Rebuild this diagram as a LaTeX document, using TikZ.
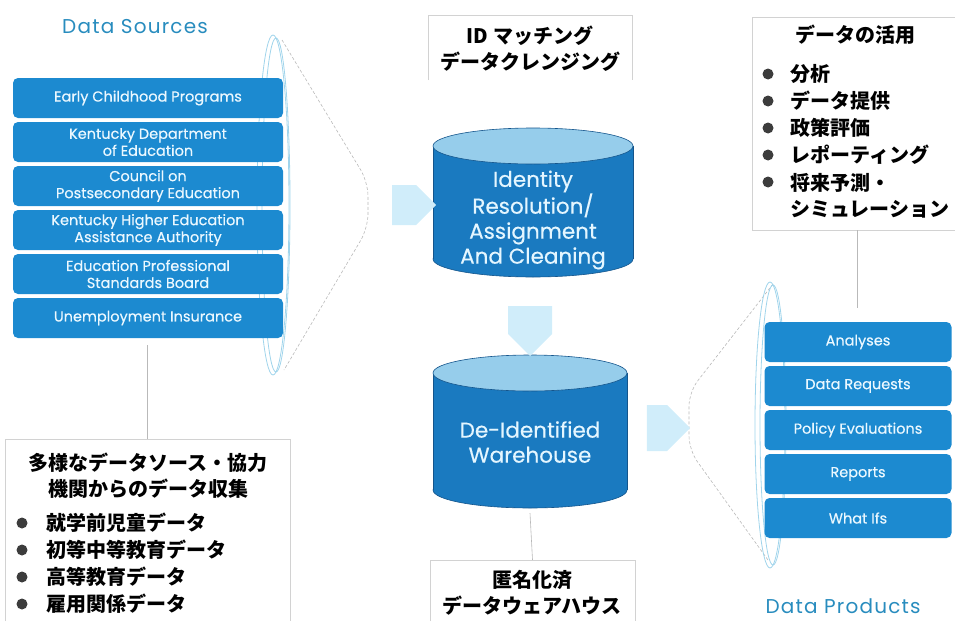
\documentclass[tikz,border=0pt]{standalone}
\usepackage{fontspec}
\setmainfont{Poppins}
\newfontfamily\boxfont{Poppins}[FakeBold=0.4]
\newfontfamily\titlefont{Poppins}[LetterSpace=6]
\newfontfamily\jp{Noto Sans CJK JP}
\usetikzlibrary{shapes.arrows}
\definecolor{boxblue}{RGB}{28,138,208}
\definecolor{titleblue}{RGB}{40,140,190}
\definecolor{cylbody}{RGB}{26,122,192}
\definecolor{cyledge}{RGB}{20,85,140}
\definecolor{cyltop}{RGB}{150,205,235}
\definecolor{cyltext}{RGB}{228,246,255}
\definecolor{arrowc}{RGB}{208,237,250}
\definecolor{ringc}{RGB}{160,212,235}
\definecolor{bulletc}{RGB}{60,60,60}
\definecolor{boxtext}{RGB}{235,248,255}
\tikzset{
  itembox/.style={rectangle, rounded corners=5pt, fill=boxblue, text=boxtext, align=center,
    inner sep=0pt, font=\boxfont\fontsize{14.5}{17}\selectfont},
  srcbox/.style={itembox, minimum width=270pt, minimum height=40pt},
  prodbox/.style={itembox, minimum width=187pt, minimum height=40pt},
  cyllabel/.style={align=center, text=cyltext, font=\boxfont\fontsize{21.5}{25}\selectfont, inner sep=0pt},
  cylbox/.style={rectangle, inner sep=0pt, minimum width=200pt},
  jptext/.style={font=\jp\bfseries\fontsize{20}{26}\selectfont, inner sep=0pt},
  frame/.style={draw=gray!35, line width=0.6pt},
  conn/.style={draw=gray!55, line width=0.6pt},
  ring/.style={draw=ringc, line width=0.8pt},
  funnel/.style={draw=gray!55, line width=0.6pt, dash pattern=on 3pt off 2pt, rounded corners=14pt},
  blockarrow/.style={single arrow, fill=arrowc, draw=none, inner sep=10pt, single arrow head extend=0pt},
  bullet/.style={circle, fill=bulletc, inner sep=0pt, minimum size=11pt},
  titletext/.style={text=titleblue, font=\titlefont\fontsize{20}{24}\selectfont, inner sep=0pt}
}
\begin{document}
\begin{tikzpicture}[x=1pt, y=-1pt]
\useasboundingbox (0,0) rectangle (955,621);

% ---------- left funnel ----------
\draw[funnel] (282,40) -- (368,182) -- (368,228) -- (284,370);
\draw[ring] (273,205) ellipse[x radius=16, y radius=170];
\draw[ring] (276,205) ellipse[x radius=14, y radius=167];

% ---------- right funnel ----------
\draw[funnel] (773,284) -- (689,392) -- (689,450) -- (768,560);
\draw[ring] (770,425) ellipse[x radius=15, y radius=143];
\draw[ring] (773,425) ellipse[x radius=13, y radius=140];

% ---------- titles ----------
\node[titletext] (dstitle) at (135,27) {Data Sources};
\node[titletext] (dptitle) at (843,606) {Data Products};

% ---------- source boxes ----------
\node[srcbox] (s1) at (148,98)  {Early Childhood Programs};
\node[srcbox] (s2) at (148,142) {Kentucky Department\\of Education};
\node[srcbox] (s3) at (148,186) {Council on\\Postsecondary Education};
\node[srcbox] (s4) at (148,230) {Kentucky Higher Education\\Assistance Authority};
\node[srcbox] (s5) at (148,274) {Education Professional\\Standards Board};
\node[srcbox] (s6) at (148,318) {Unemployment Insurance};

% ---------- product boxes ----------
\node[prodbox] (p1) at (858,342) {Analyses};
\node[prodbox] (p2) at (858,386) {Data Requests};
\node[prodbox] (p3) at (858,430) {Policy Evaluations};
\node[prodbox] (p4) at (858,474) {Reports};
\node[prodbox] (p5) at (858,518) {What Ifs};

% ---------- cylinder 1 ----------
\fill[cylbody, draw=cyledge, line width=0.6pt] (533,259) ellipse[x radius=100, y radius=18];
\fill[cylbody] (433,146) rectangle (633,259);
\draw[cyledge, line width=0.6pt] (433,146) -- (433,259) (633,146) -- (633,259);
\fill[cyltop, draw=cyledge, line width=0.6pt] (533,146) ellipse[x radius=100, y radius=18];
\node[cylbox, minimum height=149pt] (c1) at (533,202.5) {};
\node[cyllabel] (c1t) at (533,220) {Identity\\Resolution/\\Assignment\\And Cleaning};

% ---------- cylinder 2 ----------
\fill[cylbody, draw=cyledge, line width=0.6pt] (530,490) ellipse[x radius=97, y radius=18];
\fill[cylbody] (433,373) rectangle (627,490);
\draw[cyledge, line width=0.6pt] (433,373) -- (433,490) (627,373) -- (627,490);
\fill[cyltop, draw=cyledge, line width=0.6pt] (530,373) ellipse[x radius=97, y radius=18];
\node[cylbox, minimum width=194pt, minimum height=153pt] (c2) at (530,431.5) {};
\node[cyllabel] (c2t) at (530,442) {De-Identified\\Warehouse};

% ---------- block arrows ----------
\node[blockarrow, minimum height=44pt, minimum width=40pt] (a1) at (404,205) {};
\node[blockarrow, minimum height=50pt, minimum width=44pt, shape border rotate=270] (a2) at (530,320) {};
\node[blockarrow, minimum height=42pt, minimum width=46pt] (a3) at (657,428) {};

% ---------- text frames ----------
\node[rectangle, inner sep=0pt, minimum width=204pt, minimum height=65pt] (idf) at (530,47.5) {};
\draw[frame] (idf.south west) -- (idf.north west) -- (idf.north east) -- (idf.south east);
\node[jptext, align=center] (idt) at (530,49) {ID マッチング\\データクレンジング};

\node[rectangle, inner sep=0pt, minimum width=285pt, minimum height=182pt] (blf) at (147.5,530) {};
\draw[frame] (blf.south west) -- (blf.north west) -- (blf.north east) -- (blf.south east);
\node[jptext, align=center] (blt) at (148,476) {多様なデータソース・協力\\機関からのデータ収集};
\node[bullet] (lb1) at (22,523) {};
\node[bullet] (lb2) at (22,550) {};
\node[bullet] (lb3) at (22,577) {};
\node[bullet] (lb4) at (22,604) {};
\node[jptext, anchor=west] (lt1) at (46,523) {就学前児童データ};
\node[jptext, anchor=west] (lt2) at (46,550) {初等中等教育データ};
\node[jptext, anchor=west] (lt3) at (46,577) {高等教育データ};
\node[jptext, anchor=west] (lt4) at (46,604) {雇用関係データ};

\node[rectangle, inner sep=0pt, minimum width=205pt, minimum height=61pt] (bmf) at (532.5,590.5) {};
\draw[frame] (bmf.south west) -- (bmf.north west) -- (bmf.north east) -- (bmf.south east);
\node[jptext, align=center] (bmt) at (532,593) {匿名化済\\データウェアハウス};

\node[rectangle, inner sep=0pt, minimum width=203pt, minimum height=213pt] (trf) at (853.5,123.5) {};
\draw[frame] (trf.south east) -- (trf.south west) -- (trf.north west) -- (trf.north east);
\node[jptext] (trt) at (855,35) {データの活用};
\node[bullet] (rb1) at (768,74) {};
\node[bullet] (rb2) at (768,101) {};
\node[bullet] (rb3) at (768,128) {};
\node[bullet] (rb4) at (768,155) {};
\node[bullet] (rb5) at (768,182) {};
\node[jptext, anchor=west] (rt1) at (790,74) {分析};
\node[jptext, anchor=west] (rt2) at (790,101) {データ提供};
\node[jptext, anchor=west] (rt3) at (790,128) {政策評価};
\node[jptext, anchor=west] (rt4) at (790,155) {レポーティング};
\node[jptext, anchor=west, align=left] (rt5) at (790,195.5) {将来予測・\\シミュレーション};

% ---------- connectors ----------
\draw[conn] ([yshift=-7pt]s6.south -| blf.north) -- (blf.north);
\draw[conn] ([yshift=-5pt]c2.south) -- (bmf.north);
\draw[conn] (trf.south -| 857,0) -- ([yshift=14pt]p1.north -| 857,0);
\end{tikzpicture}
\end{document}
